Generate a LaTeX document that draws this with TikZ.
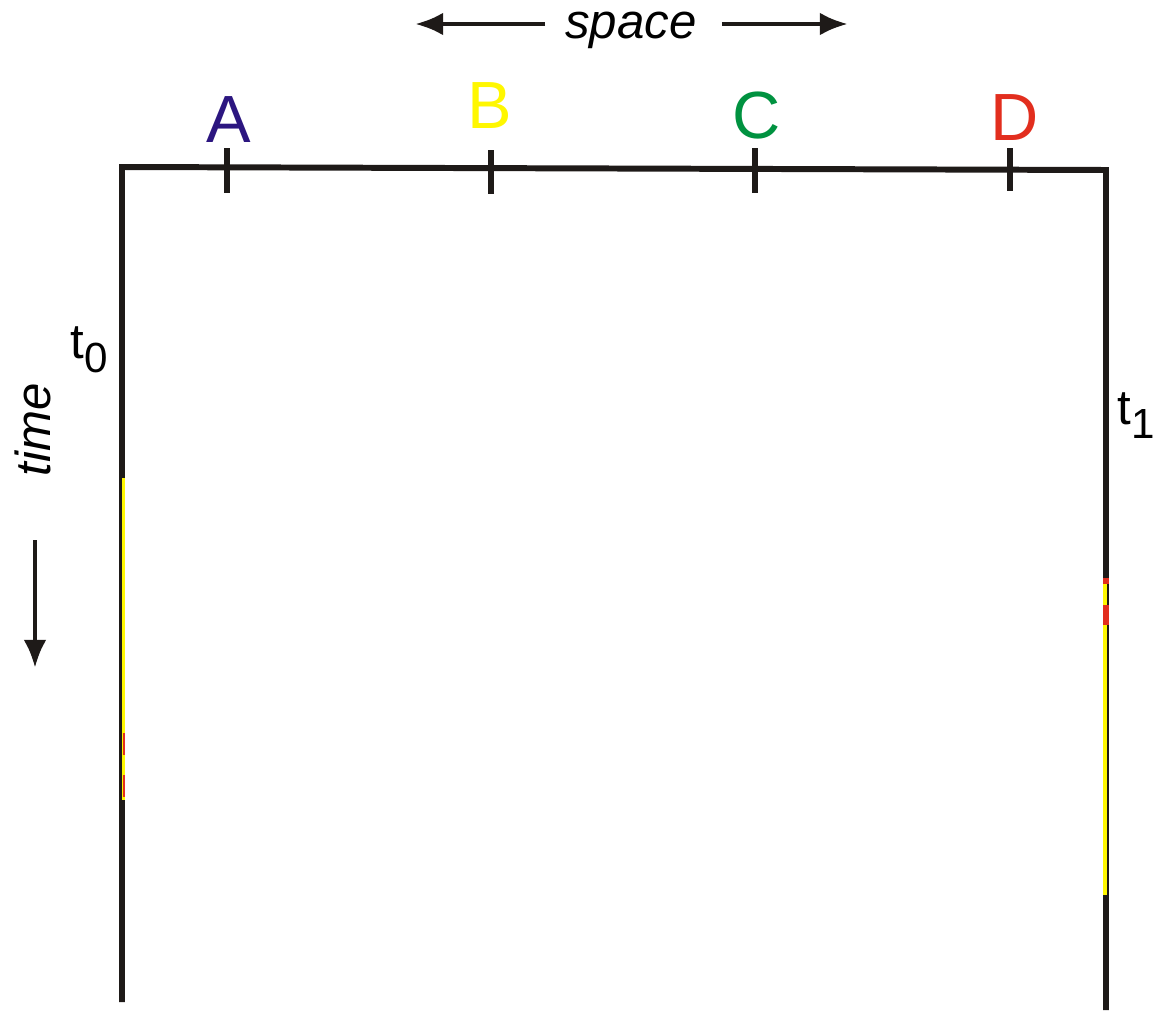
\documentclass[tikz,border=0pt]{standalone}
\usepackage{fontspec}
\setmainfont{Liberation Sans}
\usetikzlibrary{arrows.meta,positioning}
\definecolor{colA}{RGB}{44,22,128}
\definecolor{colB}{RGB}{255,247,0}
\definecolor{colC}{RGB}{0,146,64}
\definecolor{colD}{RGB}{226,46,30}
\definecolor{ink}{RGB}{30,26,24}
\begin{document}
\begin{tikzpicture}[x=0.02cm, y=-0.02cm,
    edge/.style = {line width=3.4pt, color=ink},
    tick/.style = {line width=3.8pt, color=ink},
    arr/.style = {line width=2.8pt, color=ink, -{Latex[length=16pt, width=13pt]}},
    lbl/.style = {font=\fontsize{38}{40}\selectfont, inner sep=0pt, anchor=base},
    axis/.style = {font=\fontsize{28}{30}\selectfont\itshape, inner sep=0pt},
    tlbl/.style = {font=\fontsize{28}{30}\selectfont, inner sep=0pt, anchor=base west}]
\useasboundingbox (0,0) rectangle (1171,1011);
% frame
\coordinate (tl) at (122,167);
\coordinate (tr) at (1106,170);
\coordinate (bl) at (122,1002);
\coordinate (br) at (1106,1010);
\draw[edge] (bl) -- (tl) -- (tr) -- (br);
% worldlines
\draw[line width=2.2pt, colB] (123.5,478) -- (123.5,800);
\draw[line width=1.2pt, colD] (124,733) -- (124,755);
\draw[line width=1.2pt, colD] (124,775) -- (124,797);
\draw[line width=2.2pt, colB] (1105,584) -- (1105,895);
\draw[line width=3pt, colD] (1106,578) -- (1106,584);
\draw[line width=3pt, colD] (1106,605) -- (1106,625);
% ticks
\coordinate (tA) at (227,168);
\coordinate (tB) at (491,169);
\coordinate (tC) at (755,169);
\coordinate (tD) at (1010,170);
\draw[tick] (227,148) -- (227,193);
\draw[tick] (491,150) -- (491,194);
\draw[tick] (755,148) -- (755,193);
\draw[tick] (1010,148) -- (1010,191);
\node[lbl, text=colA] (A) at (229,142) {A};
\node[lbl, text=colB] (B) at (490,128) {B};
\node[lbl, text=colC] (C) at (757,138) {C};
\node[lbl, text=colD] (D) at (1015,140) {D};
% space arrow
\node[axis, anchor=base] (space) at (631,38) {space};
\coordinate (sL) at (415,24);
\coordinate (sR) at (848,24);
\draw[arr] ([xshift=-0.4cm]space.west |- sL) -- (sL);
\draw[arr] ([xshift=0.5cm]space.east |- sR) -- (sR);
% time arrow
\node[axis, rotate=90] (time) at (33,430) {time};
\coordinate (tDown) at (35,668);
\draw[arr] (35,540) -- (tDown);
% instants
\node[tlbl] (t0) at (70,358) {t\raisebox{-8pt}{\fontsize{24}{26}\selectfont 0}};
\node[tlbl] (t1) at (1117,424) {t\raisebox{-8pt}{\fontsize{24}{26}\selectfont 1}};
\end{tikzpicture}
\end{document}
